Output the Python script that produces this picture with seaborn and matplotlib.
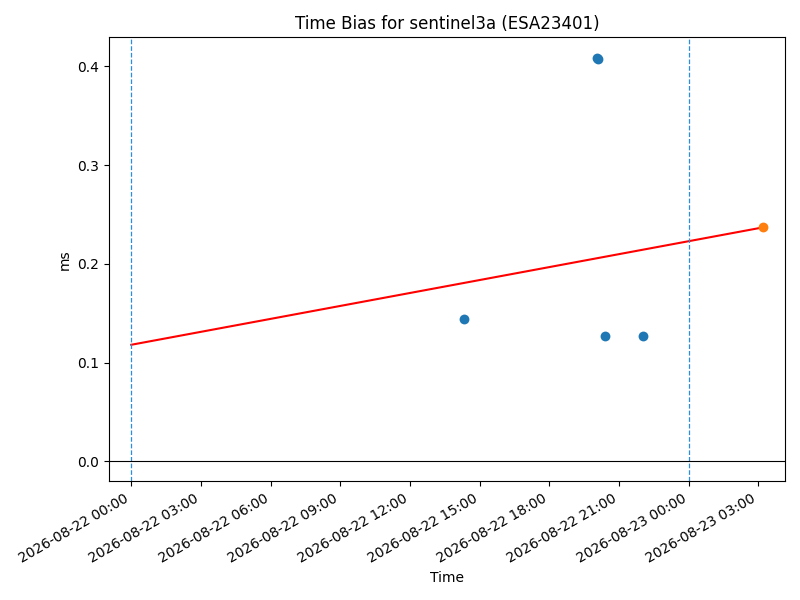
import matplotlib

matplotlib.use("Agg")
import matplotlib.dates as mdates
import matplotlib.pyplot as plt
import matplotlib.ticker as mticker
import pandas as pd
import seaborn as sns

# observed time bias points
obs_times = pd.to_datetime(
    [
        "2026-08-22 14:20",
        "2026-08-22 20:03",
        "2026-08-22 20:07",
        "2026-08-22 20:23",
        "2026-08-22 22:02",
    ]
)
obs_bias = [0.144, 0.409, 0.408, 0.127, 0.127]

# predicted point
pred_times = pd.to_datetime(["2026-08-23 03:13"])
pred_bias = [0.237]

# fitted trend line
fit_times = pd.to_datetime(["2026-08-22 00:00", "2026-08-23 03:13"])
fit_bias = [0.118, 0.237]

# day boundaries
day_marks = pd.to_datetime(["2026-08-22 00:00", "2026-08-23 00:00"])

xlim = pd.to_datetime(["2026-08-21 23:02", "2026-08-23 04:09"])

fig, ax = plt.subplots(figsize=(8, 6), dpi=100)

sns.lineplot(x=fit_times, y=fit_bias, color="red", linewidth=1.5, ax=ax)
sns.scatterplot(x=obs_times, y=obs_bias, color="#1f77b4", s=50, linewidth=0, ax=ax, zorder=3)
sns.scatterplot(x=pred_times, y=pred_bias, color="#ff7f0e", s=50, linewidth=0, ax=ax, zorder=3)

ax.vlines(day_marks, 0, 1, transform=ax.get_xaxis_transform(),
          linestyles="dashed", linewidth=0.9, colors="#2b8de0")
ax.axhline(0, color="black", linewidth=0.8)

ax.set_xlim(xlim[0], xlim[1])
ax.set_ylim(-0.0205, 0.4295)
ax.yaxis.set_major_locator(mticker.MultipleLocator(0.1))
ax.xaxis.set_major_locator(mdates.HourLocator(byhour=range(0, 24, 3)))
ax.xaxis.set_major_formatter(mdates.DateFormatter("%Y-%m-%d %H:%M"))

ax.set_title("Time Bias for sentinel3a (ESA23401)")
ax.set_xlabel("Time")
ax.set_ylabel("ms")

fig.autofmt_xdate()
fig.tight_layout()
fig.savefig("out.png")
